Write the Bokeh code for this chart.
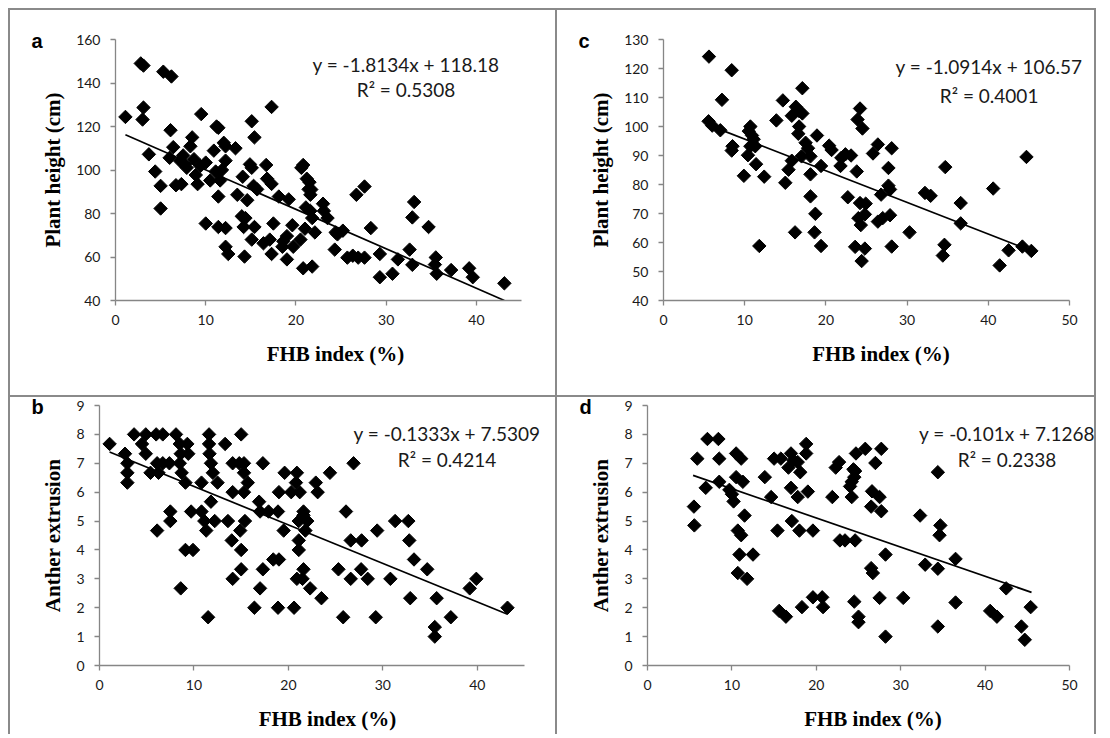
import math
from bokeh.plotting import figure
from bokeh.models import Label, FixedTicker, Range1d
from bokeh.layouts import row, column
from bokeh.embed import file_html
from bokeh.resources import INLINE

# ---------------- data (FHB index %, trait) ----------------
PTS_A = [(1.1, 124.4), (2.8, 149), (3.1, 148), (3.1, 128.7), (3.0, 123.2), (3.7, 107.2), (4.4, 99.3),
         (5.0, 92.7), (5.0, 82.3), (5.3, 145.2), (6.2, 143), (6.1, 118.3), (6.4, 110.5), (6.0, 105.6),
         (6.7, 93), (7.2, 104), (7.5, 106.7), (7.7, 102.6), (7.9, 101), (7.3, 93.5), (8.5, 115),
         (8.3, 110.9), (8.7, 105), (8.9, 97.7), (9.1, 93.5), (9.4, 101.8), (9.5, 125.7), (10.0, 103.4),
         (10.5, 95.2), (10.9, 108.9), (11.2, 120), (11.4, 119.4), (11.1, 99.3), (11.4, 87.8), (11.6, 95.2),
         (12.0, 112.5), (12.2, 110.9), (12.2, 104.3), (11.8, 100), (13.3, 110), (13.5, 88.6), (14.1, 96.9),
         (14.0, 78.7), (14.4, 77.9), (14.2, 73.8), (14.3, 60.2), (15.1, 122.4), (15.4, 115), (14.9, 102.6),
         (15.1, 101), (14.6, 86.1), (15.3, 92.7), (15.7, 91.1), (15.4, 73.8), (15.1, 68), (16.7, 102.3),
         (16.8, 96), (17.3, 93.6), (17.3, 129), (16.4, 66.3), (17.1, 68), (17.3, 61.4), (17.5, 75.4),
         (18.1, 87.8), (19.2, 86.5), (18.6, 67.2), (19.0, 69.6), (18.5, 64.7), (19.6, 74.6), (19.0, 58.9),
         (19.7, 64.7), (20.5, 68), (20.6, 101), (20.8, 102.3), (21.2, 96), (21.5, 94.4), (21.4, 91.1),
         (21.6, 88.6), (21.1, 82.8), (21.6, 81.2), (21.8, 77.9), (20.8, 54.8), (21.8, 55.6), (22.1, 71.3),
         (21.0, 73), (21.7, 91), (23.0, 84.5), (23.1, 81.2), (23.5, 77.9), (24.4, 71.3), (25.2, 72.1),
         (24.3, 63.4), (24.6, 70.4), (26.7, 88.6), (27.6, 92.4), (25.7, 59.7), (26.3, 60.6), (26.9, 59.7),
         (27.6, 59.7), (28.3, 73.3), (29.3, 61.4), (29.3, 50.7), (30.7, 52.3), (31.3, 58.9), (32.6, 63.4),
         (32.9, 56.4), (32.9, 78.2), (33.1, 85.3), (34.7, 73.8), (35.5, 59.8), (35.4, 56.5), (35.6, 52.3),
         (37.2, 54), (39.2, 54.8), (39.6, 50.7), (43.1, 47.9), (11.4, 73.8), (12.2, 73.3), (12.2, 64.7),
         (12.5, 61.4), (10.0, 75.4)]

PTS_B = [(1.07, 7.67), (2.7, 7.33), (2.95, 7.0), (2.95, 6.67), (2.95, 6.33), (3.66, 8.0), (4.9, 8.0),
         (4.5, 7.67), (4.9, 7.33), (6.0, 8.0), (6.7, 8.0), (5.4, 6.67), (6.25, 6.67), (6.1, 7.0), (6.7, 7.0),
         (7.4, 7.0), (6.1, 4.67), (7.5, 5.33), (7.5, 5.0), (8.1, 8.0), (8.5, 7.67), (8.6, 7.33), (8.5, 7.0),
         (8.7, 6.67), (9.1, 6.33), (9.3, 7.67), (9.4, 7.33), (8.6, 2.67), (9.1, 4.0), (9.9, 4.0), (9.7, 5.33),
         (10.8, 6.33), (10.8, 5.33), (11.1, 5.0), (11.3, 4.67), (11.6, 8.0), (11.6, 7.67), (11.65, 7.33),
         (11.8, 7.0), (12.0, 6.67), (12.5, 6.33), (11.8, 5.67), (12.2, 5.0), (13.3, 7.67), (13.6, 5.0),
         (14.1, 7.0), (14.8, 7.0), (15.3, 7.0), (15.3, 6.67), (15.7, 6.33), (14.1, 6.0), (15.3, 6.0),
         (15.0, 8.0), (14.0, 4.33), (15.0, 4.0), (15.4, 5.0), (14.9, 4.67), (15.0, 3.33), (14.1, 3.0),
         (16.4, 2.0), (17.0, 2.67), (17.3, 3.33), (17.3, 7.0), (16.9, 5.67), (17.0, 5.33), (17.9, 5.33),
         (18.9, 5.33), (18.9, 2.0), (18.4, 3.67), (19.0, 3.67), (19.5, 4.67), (19.6, 6.67), (19.0, 6.0),
         (20.6, 2.0), (20.9, 6.67), (20.8, 6.33), (20.3, 6.0), (21.2, 6.0), (21.1, 5.0), (21.6, 5.33),
         (21.1, 4.33), (21.1, 4.0), (21.6, 3.33), (20.9, 3.0), (22.3, 2.67), (11.5, 1.67), (21.8, 4.67),
         (22.0, 5.0), (21.6, 5.2), (21.5, 3.0), (22.9, 6.33), (23.1, 6.0), (24.4, 6.67), (26.9, 7.0),
         (26.1, 5.33), (26.6, 4.33), (27.75, 4.33), (29.4, 4.67), (31.3, 5.0), (32.7, 5.0), (32.8, 4.33),
         (33.3, 3.67), (34.7, 3.33), (25.3, 3.33), (26.6, 3.0), (27.7, 3.33), (28.4, 3.0), (30.8, 3.0),
         (23.5, 2.33), (25.8, 1.67), (29.25, 1.67), (32.9, 2.33), (35.7, 2.33), (35.5, 1.33), (35.5, 1.0),
         (37.2, 1.67), (39.2, 2.67), (39.9, 3.0), (43.2, 2.0)]

PTS_C = [(5.6, 124.1), (8.4, 119.4), (7.2, 109.2), (5.55, 101.8), (6.0, 100.3), (7.0, 98.7), (8.5, 93.2),
         (8.4, 91.7), (9.9, 83), (10.7, 100), (10.5, 98.4), (11.1, 95.6), (10.7, 93.2), (10.4, 90.1),
         (11.3, 93.2), (10.9, 96.9), (11.4, 87), (12.4, 82.7), (11.8, 58.8), (13.9, 102.1), (14.7, 109),
         (15.0, 80.6), (15.4, 85.1), (15.8, 88.2), (15.8, 103.7), (16.3, 106.8), (16.7, 105.3), (17.1, 113.2),
         (17.1, 104.5), (16.7, 100), (16.6, 97.5), (16.2, 63.5), (17.0, 89.7), (17.5, 94.4), (17.8, 92.5),
         (18.1, 89.7), (18.9, 96.9), (18.1, 83.5), (18.1, 75.9), (18.7, 69.9), (18.6, 63.5), (19.4, 58.8),
         (19.4, 86.4), (20.4, 93.4), (20.7, 91.9), (21.8, 86.4), (21.9, 89.2), (22.4, 90.4), (23.1, 90),
         (23.8, 84.5), (22.7, 75.6), (24.2, 106.2), (23.9, 102.4), (24.5, 99.3), (24.2, 73.6), (24.0, 68.4),
         (24.3, 66), (23.6, 58.5), (24.8, 57.9), (24.4, 53.6), (26.4, 93.8), (25.8, 90.7), (28.1, 92.5),
         (27.7, 85.7), (27.7, 79.6), (26.8, 76.5), (27.9, 78.3), (24.9, 73.4), (24.8, 69.7), (26.4, 67.2),
         (27.0, 68.4), (27.9, 69.4), (28.1, 58.6), (30.3, 63.5), (32.2, 77.1), (32.9, 76.1), (34.7, 86),
         (36.6, 73.6), (36.6, 66.6), (34.6, 59.2), (34.4, 55.5), (40.6, 78.6), (44.7, 89.5), (42.5, 57.3),
         (41.4, 52.1), (44.2, 58.6), (45.3, 57.1)]

PTS_D = [(5.5, 5.5), (5.55, 4.85), (5.9, 7.16), (6.9, 6.15), (7.1, 7.84), (8.4, 7.84), (8.5, 7.16),
         (8.5, 6.36), (9.7, 6.08), (10.0, 5.93), (10.2, 5.68), (10.5, 7.34), (11.1, 7.16), (10.5, 6.52),
         (11.3, 6.36), (11.5, 5.19), (10.7, 4.67), (11.1, 4.51), (10.9, 3.84), (12.5, 3.84), (10.7, 3.2),
         (11.8, 3.0), (13.9, 6.52), (14.65, 5.83), (15.0, 7.16), (15.8, 7.16), (15.4, 4.67), (17.0, 6.15),
         (17.1, 5.0), (17.0, 7.34), (17.3, 7.1), (16.7, 6.85), (17.8, 7.04), (18.1, 6.69), (18.8, 7.67),
         (18.8, 7.34), (17.8, 5.83), (19.0, 6.02), (18.0, 4.67), (19.6, 4.67), (15.6, 1.89), (16.4, 1.69),
         (18.3, 2.02), (19.6, 2.36), (20.7, 2.36), (20.8, 2.02), (21.9, 5.83), (22.3, 6.85), (22.7, 7.04),
         (22.8, 4.33), (23.4, 4.33), (24.6, 4.33), (24.5, 2.21), (24.7, 7.34), (24.0, 6.2), (24.2, 5.83),
         (24.5, 6.52), (24.4, 6.79), (25.0, 1.69), (25.0, 1.5), (25.8, 7.5), (27.7, 7.5), (27.0, 7.01),
         (24.6, 6.73), (24.2, 6.36), (26.6, 6.03), (27.5, 5.83), (27.7, 5.34), (26.5, 5.5), (28.2, 3.84),
         (26.5, 3.37), (26.7, 3.2), (27.5, 2.34), (30.3, 2.34), (28.2, 1.0), (32.3, 5.19), (32.9, 3.49),
         (34.4, 6.69), (34.7, 4.85), (34.6, 4.51), (34.4, 3.35), (34.4, 1.35), (36.5, 3.69), (36.5, 2.18),
         (40.6, 1.89), (41.4, 1.69), (42.5, 2.67), (44.3, 1.35), (44.7, 0.89), (45.4, 2.02)]

# trendline coefficients and x extents
FIT_A = (-1.8134, 118.18); TREND_X_A = [1.1, 43.1]
FIT_B = (-0.1333, 7.5309); TREND_X_B = [1.07, 43.2]
FIT_C = (-1.0914, 106.57); TREND_X_C = [7.0, 44.8]
FIT_D = (-0.101, 7.1268); TREND_X_D = [5.4, 45.5]

EQ_A = ["y = -1.8134x + 118.18", "R\u00b2 = 0.5308"]
EQ_B = ["y = -0.1333x + 7.5309", "R\u00b2 = 0.4214"]
EQ_C = ["y = -1.0914x + 106.57", "R\u00b2 = 0.4001"]
EQ_D = ["y = -0.101x + 7.1268", "R\u00b2 = 0.2338"]

X_TICKS_45 = [0, 10, 20, 30, 40]
X_TICKS_50 = [0, 10, 20, 30, 40, 50]
Y_TICKS_A = [40, 60, 80, 100, 120, 140, 160]
Y_TICKS_C = [40, 50, 60, 70, 80, 90, 100, 110, 120, 130]
Y_TICKS_AE = list(range(0, 10))

XLABEL = "FHB index (%)"
YLABEL_H = "Plant height (cm)"
YLABEL_AE = "Anther extrusion"

AXIS_GRAY = "#868686"
BORDER = "2px solid #8a8a8a"


def panel(pts, fit, trend_x, eq, letter, xr, yr, xticks, yticks, ylabel,
          w, h, mb, axis_px, eq_pos, letter_off, right_border):
    # frame extends to the right of the x axis end so the equation text is not clipped
    frame_w = w - mb[0] - mb[1]
    x_end = xr[0] + (xr[1] - xr[0]) * frame_w / axis_px
    p = figure(width=w, height=h, x_range=Range1d(xr[0], x_end), y_range=Range1d(*yr),
               output_backend="svg", toolbar_location=None, title=letter,
               min_border_left=mb[0], min_border_right=mb[1],
               min_border_top=mb[2], min_border_bottom=mb[3])
    p.outline_line_color = None
    p.grid.grid_line_color = None
    p.background_fill_color = "white"
    p.border_fill_color = "white"
    for ax in (p.xaxis[0], p.yaxis[0]):
        ax.axis_line_color = AXIS_GRAY
        ax.axis_line_width = 1.3
        ax.major_tick_line_color = AXIS_GRAY
        ax.major_tick_line_width = 1.3
        ax.major_tick_out = 5
        ax.major_tick_in = 0
        ax.minor_tick_line_color = None
        ax.major_label_text_font = "Lato"
        ax.major_label_text_font_size = "14px"
        ax.major_label_text_color = "#1a1a1a"
        ax.axis_label_text_font = "Liberation Serif"
        ax.axis_label_text_font_style = "bold"
        ax.axis_label_text_font_size = "21px"
        ax.axis_label_text_color = "black"
    p.xaxis.bounds = (xr[0], xr[1])
    p.xaxis.ticker = FixedTicker(ticks=xticks)
    p.yaxis.ticker = FixedTicker(ticks=yticks)
    p.xaxis.axis_label = XLABEL
    p.yaxis.axis_label = ylabel
    p.xaxis.major_label_standoff = 9
    p.yaxis.major_label_standoff = 10
    p.xaxis.axis_label_standoff = 14
    p.yaxis.axis_label_standoff = 8

    # panel letter
    p.title.align = "left"
    p.title.offset = letter_off
    p.title.standoff = -24
    p.title.vertical_align = "bottom"
    p.title.text_font = "Liberation Sans"
    p.title.text_font_style = "bold"
    p.title.text_font_size = "20px"
    p.title.text_color = "black"

    xs = [a for a, _ in pts]
    ys = [b for _, b in pts]
    p.line(trend_x, [fit[0] * x + fit[1] for x in trend_x], line_color="black", line_width=1.7)
    p.scatter(xs, ys, marker="square", size=9.5, angle=math.pi / 4,
              fill_color="black", line_color="black")

    for txt, yy in ((eq[0], eq_pos[1]), (eq[1], eq_pos[2])):
        p.add_layout(Label(x=eq_pos[0], y=yy, text=txt, text_font="Lato",
                           text_font_size="19px", text_align="center", text_baseline="middle",
                           text_color="#1a1a1a"))
    st = {"border-left": BORDER, "border-top": BORDER}
    if right_border:
        st["border-right"] = BORDER
    p.styles = st
    return p


pa = panel(PTS_A, FIT_A, TREND_X_A, EQ_A, "a", (0, 45), (40, 160), X_TICKS_45, Y_TICKS_A, YLABEL_H,
           547, 387, (105, 2, 29, 97), 406, (32.2, 148.5, 137.0), -84, False)
pc = panel(PTS_C, FIT_C, TREND_X_C, EQ_C, "c", (0, 50), (40, 130), X_TICKS_50, Y_TICKS_C, YLABEL_H,
           541, 387, (106, 0, 29, 97), 406, (40.1, 120.7, 110.7), -85, True)
pb = panel(PTS_B, FIT_B, TREND_X_B, EQ_B, "b", (0, 45), (0, 9), X_TICKS_45, Y_TICKS_AE, YLABEL_AE,
           547, 339, (89, 2, 8, 71), 425, (36.8, 8.03, 7.13), -68, False)
pd_ = panel(PTS_D, FIT_D, TREND_X_D, EQ_D, "d", (0, 50), (0, 9), X_TICKS_50, Y_TICKS_AE, YLABEL_AE,
            541, 339, (90, 0, 8, 71), 422, (42.6, 8.03, 7.13), -68, True)

layout = column(row(pa, pc, spacing=0), row(pb, pd_, spacing=0), spacing=0)
layout.styles = {"margin-left": "8px", "margin-top": "8px"}

open("out.html", "w").write(file_html(layout, INLINE))
